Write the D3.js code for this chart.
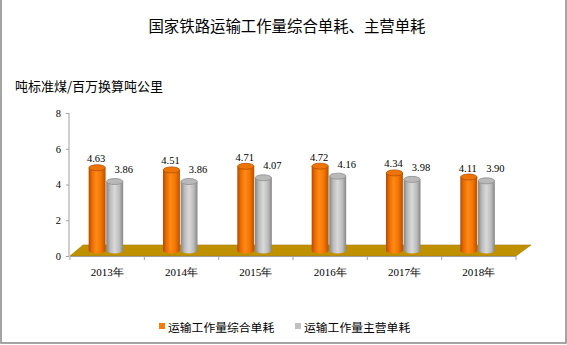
<!DOCTYPE html>
<html>
<head>
<meta charset="utf-8">
<script src="https://cdn.jsdelivr.net/npm/d3@7/dist/d3.min.js"></script>
<style>
  html, body { margin: 0; padding: 0; background: #fff; }
  svg { display: block; }
</style>
</head>
<body>
<svg id="chart" width="567" height="345"></svg>
<script>
// Chart data
const years = ["2013年", "2014年", "2015年", "2016年", "2017年", "2018年"];
const seriesNames = ["运输工作量综合单耗", "运输工作量主营单耗"];
const comprehensive = [4.63, 4.51, 4.71, 4.72, 4.34, 4.11];
const mainBusiness = [3.86, 3.86, 4.07, 4.16, 3.98, 3.90];
const yTicks = [0, 2, 4, 6, 8];
const titleText = "国家铁路运输工作量综合单耗、主营单耗";
const unitText = "吨标准煤/百万换算吨公里";

const svg = d3.select("#chart");
const W = 567, H = 345;

const serifFont = "'Liberation Serif', 'Times New Roman', serif";
const sansFont = "'Noto Sans CJK SC', 'Noto Sans', sans-serif";

// Scales
const x = d3.scaleBand().domain(years).range([70, 516]).padding(0);
const y = d3.scaleLinear().domain([0, 8]).range([256, 113]);
const xs = d3.scaleBand().domain([0, 1]).range([-18.5, 16]).paddingInner(0.04);

// 3D floor depth
const depthX = 14, depthY = -11;
const barLift = 5.5;   // bars stand in the middle of the floor depth

// Outer frame (left, right, bottom)
svg.append("path")
  .attr("d", `M1,0 V343 H566 V0`)
  .attr("fill", "none")
  .attr("stroke", "#888")
  .attr("stroke-width", 1.5);

// Title
svg.append("text")
  .attr("x", 287).attr("y", 25)
  .attr("text-anchor", "middle")
  .attr("dominant-baseline", "central")
  .attr("font-family", sansFont)
  .attr("font-size", 15.4)
  .attr("fill", "#000")
  .text(titleText);

// Unit label
svg.append("text")
  .attr("x", 15).attr("y", 85)
  .attr("dominant-baseline", "central")
  .attr("font-family", sansFont)
  .attr("font-size", 13)
  .attr("fill", "#000")
  .text(unitText);

// Gradients for cylinders
const defs = svg.append("defs");
function hGrad(id, stops) {
  const g = defs.append("linearGradient").attr("id", id)
    .attr("x1", "0%").attr("x2", "100%").attr("y1", "0%").attr("y2", "0%");
  stops.forEach(([o, c]) => g.append("stop").attr("offset", o).attr("stop-color", c));
}
hGrad("gOrange", [["0%", "#B04800"], ["18%", "#E86A00"], ["45%", "#FF8A18"], ["72%", "#F57600"], ["100%", "#B85000"]]);
hGrad("gGray", [["0%", "#858585"], ["25%", "#BEBEBE"], ["50%", "#D9D9D9"], ["78%", "#BBBBBB"], ["100%", "#858585"]]);
const bodyFill = ["url(#gOrange)", "url(#gGray)"];
const topFill = ["#EE7408", "#B9B9B9"];
const topStroke = ["#B45000", "#8E8E8E"];

// Floor
const x0 = x.range()[0], x1 = x.range()[1];
svg.append("path")
  .attr("d", `M${x0},${y(0)} L${x0 + depthX - 1},${y(0) + depthY} L${x1 + depthX + 1},${y(0) + depthY} L${x1},${y(0)} Z`)
  .attr("fill", "#BF9000")
  .attr("stroke", "#A87E00")
  .attr("stroke-width", 0.6);

// Y axis
const yAxis = d3.axisLeft(y).tickValues(yTicks).tickSize(3).tickPadding(5).tickFormat(d3.format("d"));
const gy = svg.append("g").attr("transform", "translate(69,0)").call(yAxis);
gy.select(".domain").attr("stroke", "#A0A0A0").attr("d", `M0,${y(8)}V${y(0)}`);
gy.selectAll(".tick line").attr("stroke", "#A0A0A0");
gy.selectAll(".tick text").attr("font-family", serifFont).attr("font-size", 10.5).attr("fill", "#000");

// X axis: baseline, boundary ticks, category labels
const gx = svg.append("g");
gx.append("line")
  .attr("x1", x0).attr("x2", x1).attr("y1", y(0) + 0.5).attr("y2", y(0) + 0.5)
  .attr("stroke", "#A0A0A0");
const bounds = years.map(d => x(d)).concat([x1]);
gx.selectAll("line.tk").data(bounds).join("line").attr("class", "tk")
  .attr("x1", d => d).attr("x2", d => d)
  .attr("y1", y(0)).attr("y2", y(0) + 4)
  .attr("stroke", "#A0A0A0");
gx.selectAll("text").data(years).join("text")
  .attr("x", d => x(d) + x.bandwidth() / 2)
  .attr("y", 272)
  .attr("text-anchor", "middle")
  .attr("dominant-baseline", "central")
  .attr("font-family", serifFont)
  .attr("font-size", 11)
  .attr("fill", "#000")
  .text(d => d);

// Cylinders
const series = [comprehensive, mainBusiness];
const rx = xs.bandwidth() / 2, ry = 3;
const barsG = svg.append("g");
years.forEach((yr, i) => {
  series.forEach((vals, s) => {
    const v = vals[i];
    const cx = x(yr) + x.bandwidth() / 2 + xs(s) + rx;
    const yTop = y(v) - barLift;
    const yBase = y(0) - barLift;
    const g = barsG.append("g");
    // bottom cap
    g.append("ellipse").attr("cx", cx).attr("cy", yBase).attr("rx", rx).attr("ry", ry)
      .attr("fill", bodyFill[s]);
    // body
    g.append("rect").attr("x", cx - rx).attr("y", yTop).attr("width", rx * 2).attr("height", yBase - yTop)
      .attr("fill", bodyFill[s]);
    // top cap
    g.append("ellipse").attr("cx", cx).attr("cy", yTop).attr("rx", rx - 0.3).attr("ry", ry)
      .attr("fill", topFill[s]).attr("stroke", topStroke[s]).attr("stroke-width", 0.8);
    // value label
    g.append("text")
      .attr("x", cx + (s === 0 ? -1 : 9))
      .attr("y", yTop - (s === 0 ? 9 : 12))
      .attr("text-anchor", "middle")
      .attr("dominant-baseline", "central")
      .attr("font-family", serifFont)
      .attr("font-size", 10.5)
      .attr("fill", "#000")
      .text(v.toFixed(2));
  });
});

// Legend
const legendColors = ["#F47B10", "#C0C0C0"];
const legendX = [159, 295];
const lg = svg.append("g");
seriesNames.forEach((name, s) => {
  lg.append("rect").attr("x", legendX[s]).attr("y", 323).attr("width", 6).attr("height", 6)
    .attr("fill", legendColors[s]);
  lg.append("text").attr("x", legendX[s] + 9).attr("y", 326)
    .attr("dominant-baseline", "central")
    .attr("font-family", sansFont)
    .attr("font-size", 11.8)
    .attr("fill", "#000")
    .text(name);
});
</script>
</body>
</html>
